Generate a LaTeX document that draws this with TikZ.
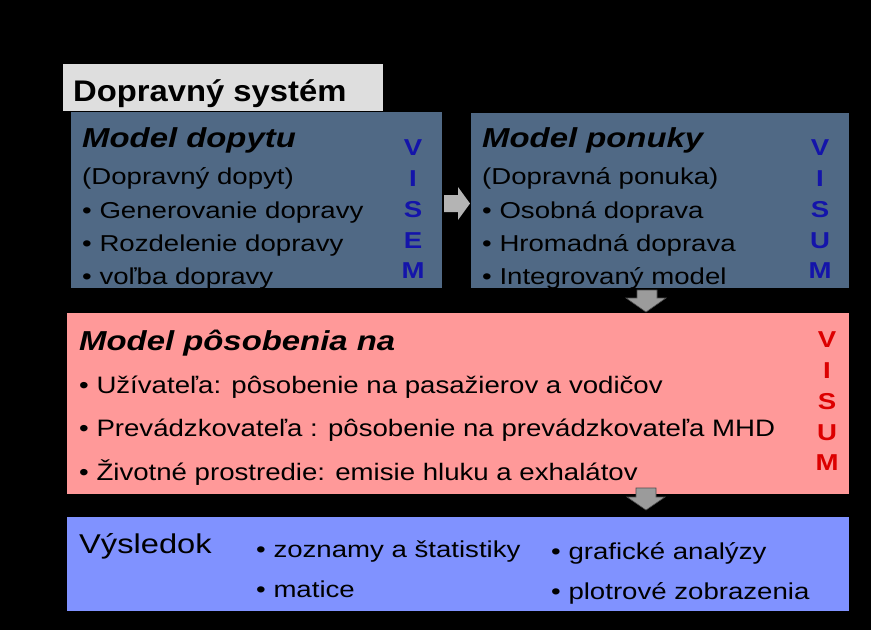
\documentclass[tikz,border=0pt]{standalone}
\usepackage{fontspec}
\setmainfont{Liberation Sans}[FakeStretch=1.2]
\newfontfamily\titlefont{Liberation Sans}[FakeStretch=1.1]
\newfontfamily\pinkfont{Liberation Sans}[FakeStretch=1.16]
\definecolor{slate}{RGB}{80,105,133}
\definecolor{pinkbox}{RGB}{255,153,153}
\definecolor{bluebox}{RGB}{128,146,255}
\definecolor{titlegrey}{RGB}{222,222,222}
\definecolor{arrowgrey}{RGB}{155,155,155}
\definecolor{arrowlight}{RGB}{180,180,180}
\definecolor{visemblue}{RGB}{20,20,170}
\definecolor{visumred}{RGB}{220,0,0}
\tikzset{
  panel/.style={draw=none, anchor=north west, inner sep=0pt},
  txt/.style={anchor=base west, inner sep=0pt, font=\fontsize{23}{27}\selectfont},
  pinktxt/.style={anchor=base west, inner sep=0pt, font=\pinkfont\fontsize{23.8}{27}\selectfont},
  head/.style={anchor=base west, inner sep=0pt, font=\fontsize{27.4}{32}\selectfont\bfseries\itshape},
  letter/.style={anchor=base, inner sep=0pt, font=\fontsize{23}{27}\selectfont\bfseries},
  blockarrow/.style={fill=arrowgrey, draw=black!70, line width=0.6pt},
}
\begin{document}
\begin{tikzpicture}[x=1pt,y=-1pt]
\fill[black] (0,0) rectangle (871,630);
\useasboundingbox (0,0) rectangle (871,630);
% boxes
\node[panel, fill=titlegrey, minimum width=320pt, minimum height=47pt] (title) at (63,64) {};
\node[panel, fill=slate, minimum width=371pt, minimum height=176pt] (dopyt) at (71,112) {};
\node[panel, fill=slate, minimum width=378pt, minimum height=175pt] (ponuka) at (471,113) {};
\node[panel, fill=pinkbox, minimum width=782pt, minimum height=181pt] (posob) at (67,313) {};
\node[panel, fill=bluebox, minimum width=782pt, minimum height=94pt] (vysl) at (67,517) {};
% arrows
\coordinate (a1) at (444,195);
\fill[arrowlight] (a1) -- (458,195) -- (458,187) -- (470,203.5) -- (458,220) -- (458,212) -- (444,212) -- cycle;
\coordinate (a2) at (637,290);
\draw[blockarrow] (a2) -- (657,290) -- (657,298) -- (666,298) -- (646,312) -- (626,298) -- (637,298) -- cycle;
\coordinate (a3) at (636,488);
\draw[blockarrow] (a3) -- (656,488) -- (656,497) -- (665,497) -- (646,510) -- (627,497) -- (636,497) -- cycle;
% title
\node[anchor=base west, inner sep=0pt, font=\titlefont\fontsize{29.8}{34}\selectfont\bfseries] (ttl) at (73,101) {Dopravný systém};
% model dopytu
\node[head] (h1) at (82,147) {Model dopytu};
\node[txt] (d1) at (82,184) {(Dopravný dopyt)};
\node[txt] (d2) at (82,218) {• Generovanie dopravy};
\node[txt] (d3) at (82,251) {• Rozdelenie dopravy};
\node[txt] (d4) at (82,284) {• voľba dopravy};
\foreach \l/\y [count=\i] in {V/155,I/186,S/217,E/248,M/278}
  \node[letter, text=visemblue] (ve\i) at (413,\y) {\l};
% model ponuky
\node[head] (h2) at (482,147) {Model ponuky};
\node[txt] (p1) at (482,184) {(Dopravná ponuka)};
\node[txt] (p2) at (482,218) {• Osobná doprava};
\node[txt] (p3) at (482,251) {• Hromadná doprava};
\node[txt] (p4) at (482,284) {• Integrovaný model};
\foreach \l/\y [count=\i] in {V/155,I/186,S/217,U/248,M/278}
  \node[letter, text=visemblue] (vu\i) at (820,\y) {\l};
% model posobenia
\node[head] (h3) at (79,350) {Model pôsobenia na};
\node[pinktxt] (m1) at (79,393) {• Užívateľa: pôsobenie na pasažierov a vodičov};
\node[pinktxt] (m2) at (79,436) {• Prevádzkovateľa : pôsobenie na prevádzkovateľa MHD};
\node[pinktxt] (m3) at (79,480) {• Životné prostredie: emisie hluku a exhalátov};
\foreach \l/\y [count=\i] in {V/347,I/378,S/409,U/440,M/470}
  \node[letter, text=visumred] (vr\i) at (827,\y) {\l};
% vysledok
\node[anchor=base west, inner sep=0pt, font=\fontsize{27.2}{32}\selectfont] (h4) at (79,553) {Výsledok};
\node[txt] (r1) at (256,557) {• zoznamy a štatistiky};
\node[txt] (r2) at (256,597) {• matice};
\node[txt] (r3) at (551,559) {• grafické analýzy};
\node[txt] (r4) at (551,599) {• plotrové zobrazenia};
\end{tikzpicture}
\end{document}
